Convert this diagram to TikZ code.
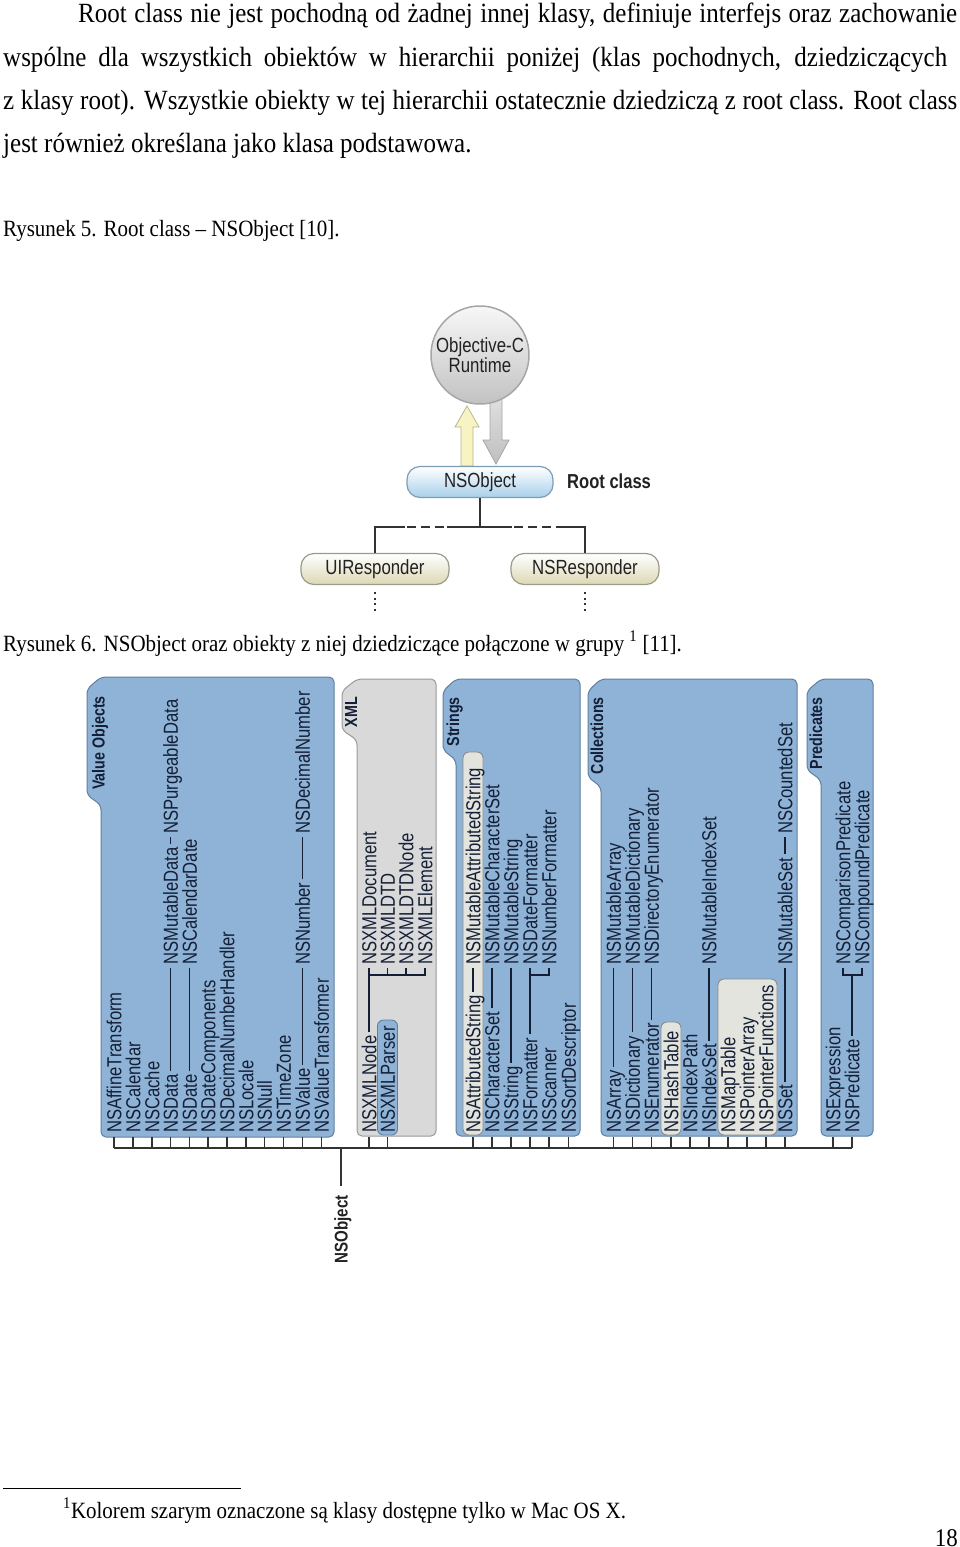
\documentclass[tikz,border=0pt]{standalone}
\usepackage{fontspec}
\setmainfont[FakeStretch=0.9]{Liberation Serif}
\newfontfamily\sansc[FakeStretch=0.82]{Liberation Sans}
\usetikzlibrary{calc}
\definecolor{boxblue}{HTML}{8FB3D7}
\definecolor{boxborder}{HTML}{5F7F9F}
\definecolor{xmlgray}{HTML}{D9D9D9}
\definecolor{xmlborder}{HTML}{9A9A9A}
\definecolor{pillgray}{HTML}{E4E4DE}
\definecolor{pillborder}{HTML}{8C8C8C}
\definecolor{navy}{HTML}{141F36}
\definecolor{nsblue}{HTML}{A8D0EA}
\definecolor{nsborder}{HTML}{7E9DB4}
\definecolor{cream}{HTML}{DCD8B4}
\definecolor{creamborder}{HTML}{9C9A88}
\definecolor{yfill}{HTML}{F7F3C2}
\definecolor{yborder}{HTML}{B8B490}
\definecolor{darktxt}{HTML}{222222}
\newcommand\grpfolder[7]{%
  \draw[#7, rounded corners=5pt] (#5,#3+12) -- (#1,#3) -- (#2,#3) -- (#2,#4) -- (#1,#4) -- (#1,#6) -- (#5,#6-10) -- cycle;}
\begin{document}
\begin{tikzpicture}[x=1pt,y=-1pt,
  body/.style={anchor=base west, inner sep=0pt, font=\fontsize{27.8}{32}\selectfont},
  capt/.style={anchor=base west, inner sep=0pt, font=\fontsize{23.3}{27}\selectfont},
  cls/.style={rotate=90, anchor=base west, inner xsep=3pt, inner ysep=0pt, text height=14.5pt, text depth=0pt, font=\sansc\fontsize{20.3}{22}\selectfont, text=navy},
  grp/.style={rotate=90, anchor=east, inner sep=0pt, text height=12.4pt, text depth=0pt, font=\sansc\bfseries\fontsize{17.4}{19}\selectfont, text=navy},
  link/.style={draw=navy, line width=1.1pt},
  tick/.style={draw=black!80, line width=1.1pt},
  bluebox/.style={fill=boxblue, draw=boxborder, line width=1pt},
  graybox/.style={fill=xmlgray, draw=xmlborder, line width=1pt},
  pillg/.style={fill=pillgray, draw=pillborder, line width=0.9pt, rounded corners=6pt},
  pillb/.style={fill=boxblue, draw=boxborder, line width=0.9pt, rounded corners=6pt},
  rbox/.style={rounded corners=13pt, minimum height=31pt, inner sep=0pt, font=\sansc\fontsize{20.5}{22}\selectfont, text=darktxt, line width=1.2pt},
  tree/.style={draw=black!80, line width=1.6pt}
]
\useasboundingbox (0,0) rectangle (960,1547);
\fill[white] (0,0) rectangle (960,1547);

% ---------------- body text ----------------
\node[body] (p1) at (78,23) {\hbox to 879pt{Root class nie jest pochodną od żadnej innej klasy, definiuje interfejs oraz zachowanie}};
\node[body] (p2) at (3,66) {\hbox to 944pt{wspólne dla wszystkich obiektów w hierarchii poniżej (klas pochodnych, dziedziczących}};
\node[body] (p3) at (3,109) {\hbox to 954pt{z klasy root). Wszystkie obiekty w tej hierarchii ostatecznie dziedziczą z root class. Root class}};
\node[body] (p4) at (3,152) {jest również określana jako klasa podstawowa.};
\node[capt] (c5) at (3,236) {Rysunek 5. Root class – NSObject [10].};
\node[capt] (c6) at (3,651) {Rysunek 6. NSObject oraz obiekty z niej dziedziczące połączone w grupy \textsuperscript{1} [11].};

% ---------------- figure 5 ----------------
\filldraw[fill=yfill, draw=yborder, line width=0.8pt] (461,466) -- (461,427) -- (455,427) -- (467,406) -- (479,427) -- (473,427) -- (473,466) -- cycle;
\shade[top color=gray!25, bottom color=gray!50, draw=gray!70, line width=0.8pt] (490,398) -- (502,398) -- (502,440) -- (509,440) -- (496,464) -- (483,440) -- (490,440) -- cycle;
\node[circle, minimum size=98pt, inner sep=0pt, top color=gray!6, bottom color=gray!48, draw=gray!70, line width=1.5pt, align=center, font=\sansc\fontsize{20.5}{19}\selectfont, text=darktxt] (rt) at (480,355) {\raisebox{-4pt}{Objective-C}\\\raisebox{-4pt}{Runtime}};
\node[rbox, minimum width=146pt, top color=white, bottom color=nsblue, draw=nsborder] (nso) at (480,482) {NSObject};
\node[anchor=west, inner sep=0pt, font=\sansc\bfseries\fontsize{20.2}{22}\selectfont, text=darktxt] (rc) at (567,481) {Root class};
\node[rbox, minimum width=148pt, top color=white, bottom color=cream, draw=creamborder] (uir) at (375,569) {UIResponder};
\node[rbox, minimum width=148pt, top color=white, bottom color=cream, draw=creamborder] (nsr) at (585,569) {NSResponder};
\coordinate (hb) at (0,527);
\draw[tree] (nso.south) -- (nso.south |- hb);
\draw[tree] (uir.north) -- (uir.north |- hb) -- ++(30,0);
\draw[tree] (nsr.north) -- (nsr.north |- hb) -- ++(-28,0);
\draw[tree] (447,527) -- (512,527);
\draw[tree, dash pattern=on 9pt off 5pt] (407,527) -- (447,527);
\draw[tree, dash pattern=on 9pt off 5pt] (514,527) -- (557,527);
\draw[draw=black!80, line width=2pt, dash pattern=on 2pt off 3.5pt] ($(uir.south)+(0,7)$) -- ($(uir.south)+(0,27)$);
\draw[draw=black!80, line width=2pt, dash pattern=on 2pt off 3.5pt] ($(nsr.south)+(0,7)$) -- ($(nsr.south)+(0,27)$);

% ---------------- figure 6: groups ----------------
\grpfolder{101}{334}{677}{1137}{87}{805}{bluebox}
\grpfolder{357}{436}{679}{1136}{342}{740}{graybox}
\grpfolder{456}{580}{679}{1136}{443}{760}{bluebox}
\grpfolder{601}{797}{679}{1136}{588}{787}{bluebox}
\grpfolder{821}{873}{679}{1136}{807}{780}{bluebox}
\node[grp] (gvo) at (98.5,696) {Value Objects};
\node[grp] (gxml) at (351,697) {XML};
\node[grp] (gstr) at (453,697) {Strings};
\node[grp] (gcol) at (597,697) {Collections};
\node[grp] (gpre) at (816,697) {Predicates};

% pills
\draw[pillb] (377.5,1020) rectangle (397.5,1135);
\draw[pillg] (463,752) rectangle (483,1135);
\draw[pillg] (661,1022) rectangle (681,1135);
\draw[pillg] (718,979) rectangle (777,1135);

% Value Objects
\node[cls] (affine) at (121.25,1136) {NSAffineTransform};
\node[cls] (calendar) at (140.25,1136) {NSCalendar};
\node[cls] (cache) at (159.25,1136) {NSCache};
\node[cls] (data) at (177.75,1136) {NSData};
\node[cls] (mdata) at (177.75,968) {NSMutableData};
\node[cls] (pdata) at (177.75,837) {NSPurgeableData};
\node[cls] (date) at (196.75,1136) {NSDate};
\node[cls] (caldate) at (196.75,968) {NSCalendarDate};
\node[cls] (datecomp) at (215.25,1136) {NSDateComponents};
\node[cls] (dnh) at (234.25,1136) {NSDecimalNumberHandler};
\node[cls] (locale) at (253.25,1136) {NSLocale};
\node[cls] (null) at (271.75,1136) {NSNull};
\node[cls] (tz) at (290.75,1136) {NSTimeZone};
\node[cls] (value) at (309.75,1136) {NSValue};
\node[cls] (number) at (309.75,968) {NSNumber};
\node[cls] (decnum) at (309.75,837) {NSDecimalNumber};
\node[cls] (vt) at (328.75,1136) {NSValueTransformer};
% XML
\node[cls] (xmlnode) at (376.25,1136) {NSXMLNode};
\node[cls] (xmldoc) at (376.25,968) {NSXMLDocument};
\node[cls] (xmlparser) at (394.75,1136) {NSXMLParser};
\node[cls] (xmldtd) at (394.75,968) {NSXMLDTD};
\node[cls] (xmldtdnode) at (413.25,968) {NSXMLDTDNode};
\node[cls] (xmlelem) at (432.25,968) {NSXMLElement};
% Strings
\node[cls] (attr) at (480.25,1136) {NSAttributedString};
\node[cls] (mattr) at (480.25,968) {NSMutableAttributedString};
\node[cls] (charset) at (499.25,1136) {NSCharacterSet};
\node[cls] (mcharset) at (499.25,968) {NSMutableCharacterSet};
\node[cls] (string) at (518.25,1136) {NSString};
\node[cls] (mstring) at (518.25,968) {NSMutableString};
\node[cls] (formatter) at (537.25,1136) {NSFormatter};
\node[cls] (dateform) at (537.25,968) {NSDateFormatter};
\node[cls] (scanner) at (556.25,1136) {NSScanner};
\node[cls] (numform) at (556.25,968) {NSNumberFormatter};
\node[cls] (sortdesc) at (575.75,1136) {NSSortDescriptor};
% Collections
\node[cls] (array) at (620.75,1136) {NSArray};
\node[cls] (marray) at (620.75,968) {NSMutableArray};
\node[cls] (dict) at (639.75,1136) {NSDictionary};
\node[cls] (mdict) at (639.75,968) {NSMutableDictionary};
\node[cls] (enumr) at (658.75,1136) {NSEnumerator};
\node[cls] (direnum) at (658.75,968) {NSDirectoryEnumerator};
\node[cls] (hash) at (678.25,1136) {NSHashTable};
\node[cls] (indexpath) at (697.25,1136) {NSIndexPath};
\node[cls] (indexset) at (716.25,1136) {NSIndexSet};
\node[cls] (mindexset) at (716.25,968) {NSMutableIndexSet};
\node[cls] (maptable) at (735.25,1136) {NSMapTable};
\node[cls] (ptrarray) at (754.25,1136) {NSPointerArray};
\node[cls] (ptrfunc) at (773.25,1136) {NSPointerFunctions};
\node[cls] (set) at (792.25,1136) {NSSet};
\node[cls] (mset) at (792.25,968) {NSMutableSet};
\node[cls] (cset) at (792.25,837) {NSCountedSet};
% Predicates
\node[cls] (expr) at (840.25,1136) {NSExpression};
\node[cls] (pred) at (859.25,1136) {NSPredicate};
\node[cls] (cmppred) at (850.25,968) {NSComparisonPredicate};
\node[cls] (cpdpred) at (869.25,968) {NSCompoundPredicate};

% links
\coordinate (brk) at (0,975);
\draw[link] (data.east) -- (mdata.west);
\draw[link] (mdata.east) -- (pdata.west);
\draw[link] (date.east) -- (caldate.west);
\draw[link] (value.east) -- (number.west);
\draw[link] (number.east) -- (decnum.west);
\draw[link] (xmlnode.east) -- (xmldoc.west);
\draw[link] (xmldoc.west |- brk) -- (xmlelem.west |- brk) -- (xmlelem.west);
\draw[link] (xmldtd.west |- brk) -- (xmldtd.west);
\draw[link] (xmldtdnode.west |- brk) -- (xmldtdnode.west);
\draw[link] (attr.east) -- (mattr.west);
\draw[link] (charset.east) -- (mcharset.west);
\draw[link] (string.east) -- (mstring.west);
\draw[link] (formatter.east) -- (dateform.west);
\draw[link] (dateform.west |- brk) -- (numform.west |- brk) -- (numform.west);
\draw[link] (array.east) -- (marray.west);
\draw[link] (dict.east) -- (mdict.west);
\draw[link] (enumr.east) -- (direnum.west);
\draw[link] (indexset.east) -- (mindexset.west);
\draw[link] (set.east) -- (mset.west);
\draw[link] (mset.east) -- (cset.west);
\draw[link] (pred.east) -- (pred.east |- brk);
\draw[link] (cmppred.west) -- (cmppred.west |- brk) -- (cpdpred.west |- brk) -- (cpdpred.west);

% baseline and ticks
\coordinate (bl) at (0,1148);
\coordinate (bb) at (0,1137);
\foreach \n in {affine,calendar,cache,data,date,datecomp,dnh,locale,null,tz,value,vt,xmlnode,xmlparser,attr,charset,string,formatter,scanner,sortdesc,array,dict,enumr,hash,indexpath,indexset,maptable,ptrarray,ptrfunc,set,expr,pred}
  \draw[tick] (\n.west |- bb) -- (\n.west |- bl);
\draw[tick] (affine.west |- bl) -- (pred.west |- bl);
\node[rotate=90, anchor=east, inner xsep=9pt, inner ysep=0pt, text height=13.2pt, text depth=0pt, font=\sansc\bfseries\fontsize{18.4}{20}\selectfont, text=darktxt] (nsobj) at (341,1186) {NSObject};
\draw[tick] (nsobj.east |- bl) -- (nsobj.east);

% ---------------- footnote ----------------
\draw[line width=0.9pt] (3,1488) -- (241,1488);
\node[capt] (fn) at (63,1518) {\textsuperscript{1}Kolorem szarym oznaczone są klasy dostępne tylko w Mac OS X.};
\node[anchor=base east, inner sep=0pt, font=\fontsize{25.5}{28}\selectfont] (pg) at (958,1546) {18};
\end{tikzpicture}
\end{document}
